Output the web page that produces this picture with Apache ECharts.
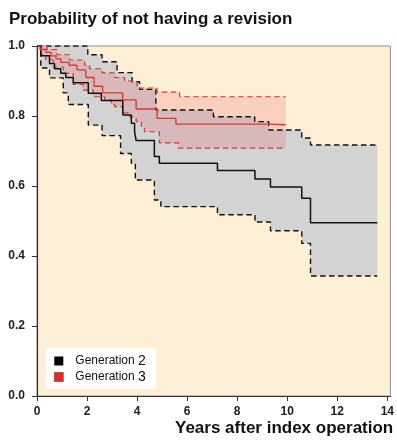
<!DOCTYPE html>
<html><head><meta charset="utf-8">
<script src="https://cdn.jsdelivr.net/npm/echarts@6/dist/echarts.min.js"></script>
<style>html,body{margin:0;padding:0;background:#fff}#c{width:397px;height:440px}</style>
</head><body><div id="c"></div>
<script>
const chartTitle = 'Probability of not having a revision';
const xAxisTitle = 'Years after index operation';
const seriesNames = ['Generation 2', 'Generation 3'];
const xTicks = [0, 2, 4, 6, 8, 10, 12, 14];
const yTicks = [0, 0.2, 0.4, 0.6, 0.8, 1.0];

// Generation 2 (black) Kaplan-Meier estimate and 95% CI
const gen2EstT = [0, 0.15, 0.5, 0.7, 0.95, 1.15, 1.45, 2.05, 2.57, 3.43, 3.77, 3.9, 3.96, 4.69, 4.89, 7.21, 8.71, 9.33, 10.58, 10.93, 13.6];
const gen2EstP = [1.0, 0.972, 0.95, 0.935, 0.922, 0.91, 0.895, 0.865, 0.844, 0.803, 0.779, 0.755, 0.73, 0.684, 0.665, 0.644, 0.62, 0.597, 0.565, 0.495, 0.495];
const gen2UpT = [0, 2.03, 2.6, 3.2, 3.8, 4.1, 4.75, 7.05, 8.7, 9.26, 10.58, 10.93, 13.6];
const gen2UpP = [1.0, 0.975, 0.955, 0.924, 0.898, 0.876, 0.817, 0.798, 0.784, 0.76, 0.737, 0.717, 0.717];
const gen2LoT = [0, 0.15, 0.5, 1.05, 1.25, 2.05, 2.6, 3.34, 3.77, 3.93, 4.69, 4.95, 7.21, 8.71, 9.33, 10.58, 10.93, 13.6];
const gen2LoP = [1.0, 0.937, 0.909, 0.866, 0.833, 0.774, 0.744, 0.693, 0.665, 0.617, 0.56, 0.541, 0.518, 0.497, 0.472, 0.436, 0.343, 0.343];

// Generation 3 (red) Kaplan-Meier estimate and 95% CI
const gen3EstT = [0, 0.12, 0.36, 0.56, 0.76, 0.95, 1.28, 1.6, 1.95, 2.28, 2.62, 3.42, 3.96, 4.8, 5.55, 9.3, 9.94];
const gen3EstP = [1.0, 0.99, 0.982, 0.972, 0.963, 0.953, 0.945, 0.932, 0.91, 0.885, 0.866, 0.846, 0.82, 0.793, 0.777, 0.775, 0.775];
const gen3UpT = [0, 0.4, 0.8, 1.3, 1.9, 2.1, 2.6, 3.1, 3.5, 4.0, 4.8, 5.7, 9.94];
const gen3UpP = [1.0, 0.99, 0.975, 0.96, 0.945, 0.935, 0.923, 0.91, 0.9, 0.88, 0.868, 0.855, 0.855];
const gen3LoT = [0, 0.15, 0.35, 0.65, 1.05, 1.44, 1.84, 2.24, 2.7, 2.97, 3.1, 3.42, 3.7, 3.96, 4.17, 4.29, 4.89, 5.65, 9.94];
const gen3LoP = [1.0, 0.975, 0.96, 0.94, 0.922, 0.89, 0.874, 0.855, 0.846, 0.833, 0.827, 0.809, 0.797, 0.784, 0.77, 0.755, 0.723, 0.708, 0.708];

const BLACK = '#111111';
const RED = '#e0352a';

function pairs(t, p) { return t.map((v, i) => [v, p[i]]); }
function stepPts(t, p) {
  const pts = [];
  for (let i = 0; i < t.length; i++) {
    if (i > 0) pts.push([t[i], p[i - 1]]);
    pts.push([t[i], p[i]]);
  }
  return pts;
}
function band(tU, pU, tL, pL, color, z) {
  const poly = stepPts(tU, pU).concat(stepPts(tL, pL).reverse());
  return {
    type: 'custom', data: [[0, 0]], z: z, silent: true,
    renderItem: (params, api) => ({
      type: 'polygon',
      shape: { points: poly.map(d => api.coord(d)) },
      style: { fill: color }
    })
  };
}
function line(name, t, p, color, width, dashed, z) {
  return {
    type: 'line', name: name, step: 'end', data: pairs(t, p), symbol: 'none', showSymbol: false,
    silent: true, z: z,
    lineStyle: { color: color, width: width, type: dashed ? [5.5, 3.5] : 'solid' },
    itemStyle: { color: color }
  };
}

const chart = echarts.init(document.getElementById('c'), null, { renderer: 'canvas' });
chart.setOption({
  animation: false,
  backgroundColor: '#ffffff',
  textStyle: { fontFamily: 'Liberation Sans, Arial, sans-serif' },
  title: {
    text: chartTitle, left: 9, top: 11, padding: 0,
    textStyle: { fontSize: 17, fontWeight: 'bold', color: '#111', fontFamily: 'Liberation Sans, Arial, sans-serif' }
  },
  graphic: [{
    type: 'text', left: 175, top: 420,
    style: { text: xAxisTitle, fontSize: 17, fontWeight: 'bold', fill: '#111', fontFamily: 'Liberation Sans, Arial, sans-serif' }
  }],
  legend: {
    orient: 'vertical', left: 46, top: 348, padding: [6, 10, 5, 8],
    backgroundColor: '#ffffff', itemWidth: 9, itemHeight: 9, itemGap: 2,
    data: [
      { name: seriesNames[0], icon: 'rect', itemStyle: { color: '#000', borderColor: '#000', borderWidth: 0 } },
      { name: seriesNames[1], icon: 'rect', itemStyle: { color: '#e8281c', borderColor: '#444', borderWidth: 0.6 } }
    ],
    formatter: n => { const m = n.match(/^(.*) (\d)$/); return '{t|' + m[1] + '} {n|' + m[2] + '}'; },
    textStyle: {
      padding: [0, 0, 0, 7], color: '#111',
      rich: { t: { fontSize: 12, color: '#111' }, n: { fontSize: 14, color: '#111' } }
    }
  },
  grid: {
    left: 37, right: 5, top: 46, bottom: 44, show: true,
    backgroundColor: '#fef0d6', borderColor: '#8c8c8c', borderWidth: 1
  },
  xAxis: {
    type: 'value', min: 0, max: 14.12, interval: 2,
    axisLine: { show: true, onZero: false, lineStyle: { color: '#333', width: 1.2 } },
    axisTick: { show: true, length: 5, customValues: xTicks, lineStyle: { color: '#333' } },
    axisLabel: { customValues: xTicks, margin: 10, fontSize: 12, fontWeight: 'bold', color: '#222' },
    splitLine: { show: false }
  },
  yAxis: {
    type: 'value', min: 0, max: 1, interval: 0.2,
    axisLine: { show: true, lineStyle: { color: '#333', width: 1.2 } },
    axisTick: { show: true, length: 5, customValues: yTicks, lineStyle: { color: '#333' } },
    axisLabel: { customValues: yTicks, margin: 12, fontSize: 12, fontWeight: 'bold', color: '#222', formatter: v => v.toFixed(1) },
    splitLine: { show: false }
  },
  series: [
    band(gen2UpT, gen2UpP, gen2LoT, gen2LoP, '#d3d3d3', 1),
    band(gen3UpT, gen3UpP, gen3LoT, gen3LoP, 'rgba(235,55,70,0.17)', 2),
    line('g2up', gen2UpT, gen2UpP, BLACK, 1.4, true, 3),
    line('g2lo', gen2LoT, gen2LoP, BLACK, 1.4, true, 3),
    line('g3up', gen3UpT, gen3UpP, RED, 1.2, true, 4),
    line('g3lo', gen3LoT, gen3LoP, RED, 1.2, true, 4),
    line(seriesNames[0], gen2EstT, gen2EstP, BLACK, 1.5, false, 5),
    line(seriesNames[1], gen3EstT, gen3EstP, RED, 1.3, false, 6)
  ]
});
</script></body></html>
